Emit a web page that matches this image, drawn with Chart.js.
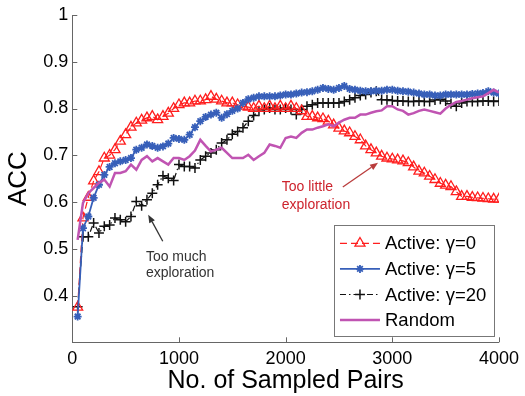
<!DOCTYPE html>
<html><head><meta charset="utf-8">
<script src="https://cdn.jsdelivr.net/npm/chart.js@4/dist/chart.umd.min.js"></script>
<style>html,body{margin:0;padding:0;background:#fff;}canvas{display:block;}</style>
</head><body>
<canvas id="c" width="525" height="396"></canvas>
<script>
// ---- data ----
const samples = [50,100,150,200,250,300,350,400,450,500,550,600,650,700,750,800,850,900,950,1000,
  1050,1100,1150,1200,1250,1300,1350,1400,1450,1500,1550,1600,1650,1700,1750,1800,1850,1900,1950,2000,
  2050,2100,2150,2200,2250,2300,2350,2400,2450,2500,2550,2600,2650,2700,2750,2800,2850,2900,2950,3000,
  3050,3100,3150,3200,3250,3300,3350,3400,3450,3500,3550,3600,3650,3700,3750,3800,3850,3900,3950,4000];
const activeG0 = [.375,.566,.61,.645,.665,.694,.70,.712,.73,.744,.76,.769,.775,.78,.783,.776,.783,.79,.80,.808,
  .812,.812,.816,.816,.819,.826,.82,.816,.812,.812,.808,.805,.803,.80,.805,.80,.805,.80,.805,.80,
  .805,.80,.795,.783,.783,.78,.778,.773,.765,.758,.752,.748,.74,.733,.72,.712,.705,.698,.694,.692,
  .69,.688,.684,.675,.666,.662,.655,.648,.64,.636,.633,.622,.612,.612,.61,.609,.608,.607,.606,.606];
const activeG5 = [.355,.544,.569,.609,.637,.658,.675,.683,.687,.69,.694,.712,.716,.723,.72,.716,.719,.725,.737,.735,
  .733,.744,.76,.773,.782,.787,.791,.78,.788,.795,.80,.812,.82,.823,.826,.826,.826,.826,.828,.83,
  .83,.832,.834,.835,.837,.84,.844,.842,.84,.844,.848,.842,.84,.838,.837,.837,.838,.838,.84,.84,
  .838,.837,.836,.834,.832,.83,.83,.828,.828,.83,.83,.83,.83,.83,.831,.832,.833,.837,.834,.832];
const activeG20 = [.376,.526,.526,.555,.534,.548,.551,.566,.562,.558,.569,.601,.592,.605,.619,.637,.656,.651,.646,.68,
  .676,.676,.673,.69,.698,.705,.712,.726,.733,.745,.751,.759,.773,.785,.794,.798,.801,.798,.798,.801,
  .798,.787,.798,.805,.808,.812,.812,.812,.812,.812,.815,.819,.823,.828,.83,.834,.837,.819,.819,.817,
  .816,.816,.815,.815,.816,.815,.815,.818,.82,.816,.81,.805,.812,.815,.815,.815,.816,.816,.815,.816];
const randomSel = [.519,.598,.619,.63,.641,.648,.633,.662,.662,.666,.68,.669,.69,.698,.687,.694,.687,.68,.694,.694,
  .69,.698,.71,.733,.72,.708,.712,.716,.705,.694,.694,.694,.701,.69,.698,.705,.723,.72,.716,.737,
  .74,.737,.748,.755,.755,.759,.762,.766,.762,.77,.776,.78,.78,.787,.787,.791,.794,.796,.805,.805,
  .798,.795,.787,.79,.795,.798,.795,.792,.789,.80,.808,.814,.816,.819,.822,.824,.826,.833,.84,.834];
const seriesNames = ['Active: \u03b3=0','Active: \u03b3=5','Active: \u03b3=20','Random'];
const xTitle = 'No. of Sampled Pairs';
const yTitle = 'ACC';
const annoMuch = ['Too much','exploration'];
const annoLittle = ['Too little','exploration'];

// ---- styling / layout ----
const FONT = '"Liberation Sans", Arial, Helvetica, sans-serif';
const RED = 'rgb(255,30,30)', BLUE = 'rgb(55,95,185)', BLACK = '#111', MAG = 'rgb(192,84,178)';
const pts = ys => samples.map((x,i)=>({x, y: ys[i]}));

function drawMarker(ctx, style, x, y, r){
  ctx.beginPath();
  if (style==='triangle'){
    for (let k=0;k<3;k++){const a=-Math.PI/2+k*2*Math.PI/3; const px=x+Math.cos(a)*r, py=y+Math.sin(a)*r; k?ctx.lineTo(px,py):ctx.moveTo(px,py);}
    ctx.closePath();
  } else if (style==='star'){
    for (let k=0;k<4;k++){const a=k*Math.PI/4; ctx.moveTo(x+Math.cos(a)*r,y+Math.sin(a)*r); ctx.lineTo(x-Math.cos(a)*r,y-Math.sin(a)*r);}
  } else if (style==='cross'){
    ctx.moveTo(x-r,y);ctx.lineTo(x+r,y);ctx.moveTo(x,y-r);ctx.lineTo(x,y+r);
  }
  ctx.stroke();
}
function arrow(ctx, x0,y0,x1,y1,color){
  ctx.save(); ctx.strokeStyle=color; ctx.fillStyle=color; ctx.lineWidth=1.3;
  const a=Math.atan2(y1-y0,x1-x0), L=8, W=3.2;
  const bx=x1-Math.cos(a)*L, by=y1-Math.sin(a)*L;
  ctx.beginPath(); ctx.moveTo(x0,y0); ctx.lineTo(bx,by); ctx.stroke();
  ctx.beginPath(); ctx.moveTo(x1,y1);
  ctx.lineTo(bx+Math.sin(a)*W, by-Math.cos(a)*W);
  ctx.lineTo(bx-Math.sin(a)*W, by+Math.cos(a)*W); ctx.closePath(); ctx.fill();
  ctx.restore();
}

const overlay = {
  id:'overlay',
  afterDraw(chart){
    const {ctx, chartArea:a, scales:{x,y}} = chart;
    ctx.save();
    // inward tick marks
    ctx.strokeStyle='#666'; ctx.lineWidth=1;
    x.ticks.forEach((t,i)=>{const px=Math.round(x.getPixelForTick(i))+0.5; ctx.beginPath(); ctx.moveTo(px,a.bottom); ctx.lineTo(px,a.bottom-5); ctx.stroke();});
    y.ticks.forEach((t,i)=>{const py=Math.round(y.getPixelForTick(i))+0.5; ctx.beginPath(); ctx.moveTo(a.left,py); ctx.lineTo(a.left+5,py); ctx.stroke();});
    // annotations
    ctx.font='14px '+FONT; ctx.textBaseline='middle'; ctx.textAlign='left';
    ctx.fillStyle='#333';
    ctx.fillText(annoMuch[0], x.getPixelForValue(690), y.getPixelForValue(0.483));
    ctx.fillText(annoMuch[1], x.getPixelForValue(690), y.getPixelForValue(0.447));
    arrow(ctx, x.getPixelForValue(848), y.getPixelForValue(0.516), x.getPixelForValue(712), y.getPixelForValue(0.573), '#333');
    ctx.fillStyle='rgb(205,35,45)';
    ctx.fillText(annoLittle[0], x.getPixelForValue(1963), y.getPixelForValue(0.632));
    ctx.fillText(annoLittle[1], x.getPixelForValue(1963), y.getPixelForValue(0.594));
    arrow(ctx, x.getPixelForValue(2536), y.getPixelForValue(0.632), x.getPixelForValue(2866), y.getPixelForValue(0.684), 'rgb(185,60,60)');
    // legend
    const bw=160, bh=111, bx=a.right-bw-5, by=a.bottom-bh-6.5;
    ctx.fillStyle='#fff'; ctx.fillRect(bx,by,bw,bh);
    ctx.strokeStyle='#777'; ctx.lineWidth=1; ctx.strokeRect(Math.round(bx)+0.5,Math.round(by)+0.5,bw,bh);
    ctx.font='18.5px '+FONT; ctx.textBaseline='middle';
    chart.data.datasets.forEach((ds,i)=>{
      const cy=by+18.5+i*25.6, x0=bx+6, x1=bx+46;
      ctx.strokeStyle=ds.borderColor; ctx.lineWidth=ds.borderWidth;
      ctx.setLineDash(ds.borderDash||[]);
      ctx.beginPath(); ctx.moveTo(x0,cy); ctx.lineTo(x1,cy); ctx.stroke();
      ctx.setLineDash([]);
      if (ds.pointRadius>0){ ctx.lineWidth=ds.pointBorderWidth; ctx.strokeStyle=ds.pointBorderColor; drawMarker(ctx, ds.pointStyle, (x0+x1)/2, cy, ds.pointRadius); }
      ctx.fillStyle='#000'; ctx.fillText(ds.label, bx+51, cy+1);
    });
    ctx.restore();
  }
};

const ds = (label, ys, color, w, dash, style, r, pw, order) => ({
  label, data: pts(ys), borderColor: color, borderWidth: w, borderDash: dash,
  pointStyle: style, pointRadius: r, pointBorderColor: color, pointBackgroundColor: 'rgba(0,0,0,0)',
  pointBorderWidth: pw, pointHoverRadius: r, tension: 0, fill: false, order
});

new Chart(document.getElementById('c'), {
  type: 'line',
  data: { datasets: [
    ds(seriesNames[0], activeG0, RED, 1.2, [7,4], 'triangle', 5.8, 1.3, 2),
    ds(seriesNames[1], activeG5, BLUE, 1.8, [], 'star', 4, 1.8, 1),
    ds(seriesNames[2], activeG20, BLACK, 1.2, [6,3,1.5,3], 'cross', 5, 1.5, 3),
    ds(seriesNames[3], randomSel, MAG, 2.5, [], false, 0, 0, 0)
  ]},
  options: {
    responsive:false, animation:false, devicePixelRatio:1,
    layout:{padding:{left:0,top:15,right:20,bottom:0}},
    plugins:{legend:{display:false}, tooltip:{enabled:false}},
    scales:{
      x:{ type:'linear', min:0, max:4000,
        ticks:{stepSize:1000, color:'#000', font:{family:FONT,size:18}, padding:6, maxRotation:0,
          callback:v=>String(Math.round(v))},
        grid:{display:false, drawTicks:false}, border:{display:true,color:'#666',width:1},
        title:{display:true,text:xTitle,color:'#000',font:{family:FONT,size:25,lineHeight:1},padding:{top:0,bottom:2.5}},
        afterFit(s){s.height=53.7;} },
      y:{ type:'linear', min:0.3, max:1,
        ticks:{stepSize:0.1, color:'#000', font:{family:FONT,size:18}, padding:4,
          callback:v=>{const r=Math.round(v*10)/10; return r<0.35?'':(r===1?'1':r.toFixed(1));}},
        grid:{display:false, drawTicks:false}, border:{display:true,color:'#666',width:1},
        title:{display:true,text:yTitle,color:'#000',font:{family:FONT,size:26,lineHeight:1},padding:{top:6,bottom:0}},
        afterFit(s){s.width=72.3;} }
    }
  },
  plugins:[overlay]
});
</script>
</body></html>
